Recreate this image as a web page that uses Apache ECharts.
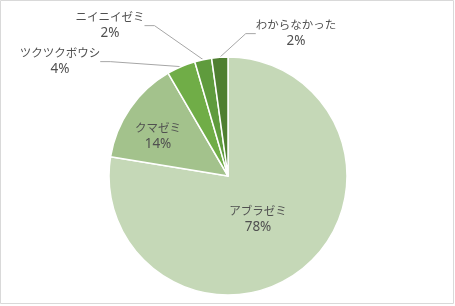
<!DOCTYPE html>
<html><head><meta charset="utf-8">
<script src="https://cdn.jsdelivr.net/npm/echarts@6/dist/echarts.min.js"></script>
<style>html,body{margin:0;padding:0;background:#fff}#c{width:455px;height:306px}</style>
</head><body><div id="c"></div>
<script>
const categories = ['アブラゼミ','クマゼミ','ツクツクボウシ','ニイニイゼミ','わからなかった'];
const values = [77.6, 14.0, 3.9, 2.3, 2.2];
const colors = ['#c5d8b7','#a3c28c','#70ad47','#5f9b3d','#4f7f31'];
const insideIdx = [0,1];
const labelPos = [[258,219],[158,136],[60,61],[110,25],[296,33]];

const chart = echarts.init(document.getElementById('c'));
const data = categories.map((n,i)=>({
  name:n, value:values[i],
  itemStyle:{color:colors[i]},
  label:{position: insideIdx.includes(i)?'inside':'outside'},
  labelLine:{show:!insideIdx.includes(i)}
}));
chart.setOption({
  animation:false,
  graphic:[{type:'rect',shape:{x:0.5,y:0.5,width:453,height:303},style:{fill:'none',stroke:'#d9d9d9',lineWidth:1}}],
  series:[{
    type:'pie',
    center:[228,176],
    radius:[0,119],
    startAngle:90,
    clockwise:true,
    data:data,
    itemStyle:{borderColor:'#fff',borderWidth:1.5},
    label:{
      formatter:p=>'{n|'+p.name+'}\n{p|'+Math.round(p.percent)+'%}',
      color:'#505050',
      align:'center',
      rich:{
        n:{fontFamily:'"Noto Sans CJK JP", sans-serif',fontSize:11.5,lineHeight:17,color:'#505050',align:'center'},
        p:{fontFamily:'"Noto Sans", "Open Sans", sans-serif',fontSize:13.5,lineHeight:17,color:'#505050',align:'center'}
      }
    },
    labelLine:{lineStyle:{color:'#a6a6a6',width:1},length:10,length2:10},
    labelLayout:function(p){
      const pos = labelPos[p.dataIndex];
      return {x:pos[0], y:pos[1], align:'center', verticalAlign:'middle'};
    }
  }]
});
</script></body></html>
